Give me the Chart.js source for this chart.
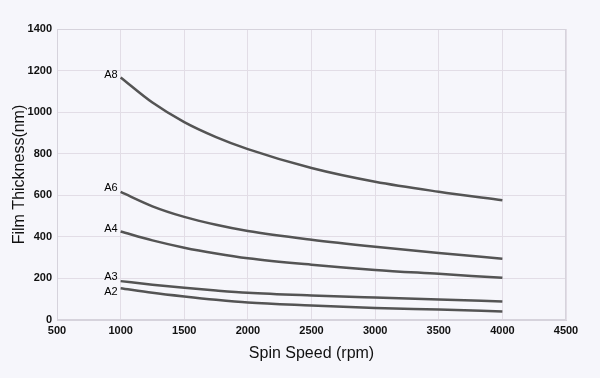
<!DOCTYPE html>
<html><head><meta charset="utf-8">
<script src="https://cdn.jsdelivr.net/npm/chart.js@4"></script>
<style>html,body{margin:0;padding:0;background:#f6f6fb;}#wrap{width:600px;height:378px;}</style>
</head><body><div id="wrap"><canvas id="c" width="600" height="378"></canvas></div>
<script>
const speeds = [1000, 1250, 1500, 1750, 2000, 2500, 3000, 3500, 4000];
const seriesNames = ['A8', 'A6', 'A4', 'A3', 'A2'];
const A8 = [1167, 1046, 952, 880, 822, 731, 665, 617, 576];
const A6 = [616, 547, 496, 458, 428, 386, 352, 322, 295];
const A4 = [426, 383, 348, 320, 297, 266, 241, 222, 203];
const A3 = [187, 170, 155, 142, 131, 118, 108, 99, 89];
const A2 = [153, 131, 113, 97, 84, 70, 58, 50, 41];
const xTicks = [500, 1000, 1500, 2000, 2500, 3000, 3500, 4000, 4500];
const yTicks = [0, 200, 400, 600, 800, 1000, 1200, 1400];

const allSeries = [A8, A6, A4, A3, A2];
const labelOffsets = [-2, -4, -2, -4, 4];
const datasets = allSeries.map((vals, i) => ({
  label: seriesNames[i],
  data: vals.map((v, j) => ({x: speeds[j], y: v})),
  borderColor: '#545454',
  borderWidth: 2.5,
  pointRadius: 0,
  fill: false,
  cubicInterpolationMode: 'monotone'
}));

const labelPlugin = {
  id: 'seriesLabels',
  afterDatasetsDraw(chart) {
    const ctx = chart.ctx;
    ctx.save();
    ctx.fillStyle = '#000';
    ctx.font = '11px "Liberation Sans", Arial, sans-serif';
    ctx.textAlign = 'right';
    ctx.textBaseline = 'middle';
    chart.data.datasets.forEach((ds, i) => {
      const p = ds.data[0];
      const x = chart.scales.x.getPixelForValue(p.x);
      const y = chart.scales.y.getPixelForValue(p.y);
      ctx.fillText(ds.label, x - 3, y + labelOffsets[i]);
    });
    ctx.restore();
  }
};
const borderPlugin = {
  id: 'plotBorder',
  beforeDatasetsDraw(chart) {
    const a = chart.chartArea, ctx = chart.ctx;
    ctx.save();
    ctx.strokeStyle = '#d6d3dc';
    ctx.lineWidth = 1;
    ctx.strokeRect(a.left + 0.5, a.top + 0.5, a.right - a.left - 1, a.bottom - a.top - 1);
    ctx.restore();
  }
};

const tickFont = {family: '"Liberation Sans", Arial, sans-serif', size: 11, weight: 'bold'};
const titleFont = {family: '"Liberation Sans", Arial, sans-serif', size: 16};

new Chart(document.getElementById('c'), {
  type: 'line',
  data: {datasets},
  plugins: [borderPlugin, labelPlugin],
  options: {
    responsive: false,
    animation: false,
    layout: {padding: {top: 29, right: 34, left: 0, bottom: 0}},
    plugins: {legend: {display: false}, tooltip: {enabled: false}},
    scales: {
      x: {
        type: 'linear', min: 500, max: 4500,
        afterBuildTicks: s => { s.ticks = xTicks.map(v => ({value: v})); },
        afterFit: s => { s.height = 58; },
        grid: {color: '#e2dde6', drawTicks: false},
        border: {color: '#d6d3dc'},
        ticks: {color: '#111', font: tickFont, padding: 4, callback: v => String(v)},
        title: {display: true, text: 'Spin Speed (rpm)', color: '#111', font: titleFont, padding: {top: 0, bottom: 15}}
      },
      y: {
        type: 'linear', min: 0, max: 1400,
        afterBuildTicks: s => { s.ticks = yTicks.map(v => ({value: v})); },
        afterFit: s => { s.width = 57; },
        grid: {color: '#e2dde6', drawTicks: false},
        border: {color: '#d6d3dc'},
        ticks: {color: '#111', font: tickFont, padding: 5, callback: v => String(v)},
        title: {display: true, text: 'Film Thickness(nm)', color: '#111', font: titleFont, padding: {top: 10, bottom: 0}}
      }
    }
  }
});
</script></body></html>
